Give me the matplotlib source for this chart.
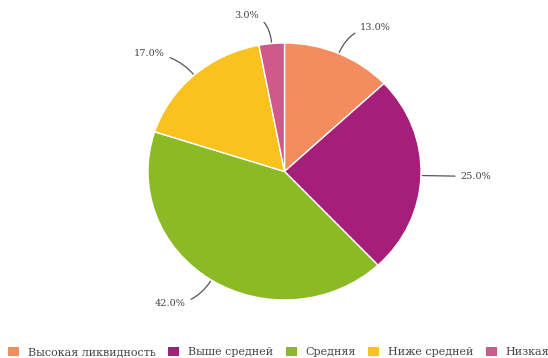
import numpy as np
import matplotlib.pyplot as plt
from matplotlib.patches import Patch

# доли групп ликвидности
categories = ['Высокая ликвидность', 'Выше средней', 'Средняя', 'Ниже средней', 'Низкая']
values = [13.0, 25.0, 42.0, 17.0, 3.0]
colors = ['#F58C5F', '#A51E79', '#8CB926', '#F9C21F', '#D0588A']

fig = plt.figure(figsize=(5.48, 3.58), dpi=100)
W, H = 548, 358
# оси под круг (в пикселях: слева 148, справа 421, сверху 43, снизу 300)
ax = fig.add_axes([148 / W, 1 - 300 / H, 273 / W, 257 / H])

wedges, _ = ax.pie(values, colors=colors, startangle=90, counterclock=False,
                   wedgeprops=dict(edgecolor='white', linewidth=1))
ax.set_aspect('auto')
ax.set_xlim(-1, 1)
ax.set_ylim(-1, 1)

txt_color = '#444444'
for w, v in zip(wedges, values):
    deg = (w.theta1 + w.theta2) / 2
    ang = np.deg2rad(deg)
    x, y = np.cos(ang), np.sin(ang)
    side = 1 if x > 0 else -1
    tx, ty = 1.22 * x + side * 0.07, 1.22 * y
    ha = 'left' if side > 0 else 'right'
    if abs(y) < 0.2:
        conn = 'arc3,rad=0'
    else:
        conn = f'angle3,angleA=0,angleB={deg:.1f}'
    ax.annotate(f'{v:.1f}%', xy=(x, y), xytext=(tx, ty), ha=ha, va='center',
                fontsize=7, family='DejaVu Serif', color=txt_color,
                annotation_clip=False,
                arrowprops=dict(arrowstyle='-', color='#555555', lw=0.9,
                                shrinkA=2, shrinkB=1, connectionstyle=conn))

handles = [Patch(facecolor=c, edgecolor='none') for c in colors]
fig.legend(handles, categories, loc='center left', bbox_to_anchor=(6 / W, 1 - 352 / H),
           ncol=5, frameon=False, handlelength=1.0, handleheight=0.9,
           handletextpad=0.8, columnspacing=1.1, borderaxespad=0, borderpad=0.2,
           prop=dict(family='DejaVu Serif', size=8), labelcolor=txt_color)

fig.savefig('out.png', dpi=100)
